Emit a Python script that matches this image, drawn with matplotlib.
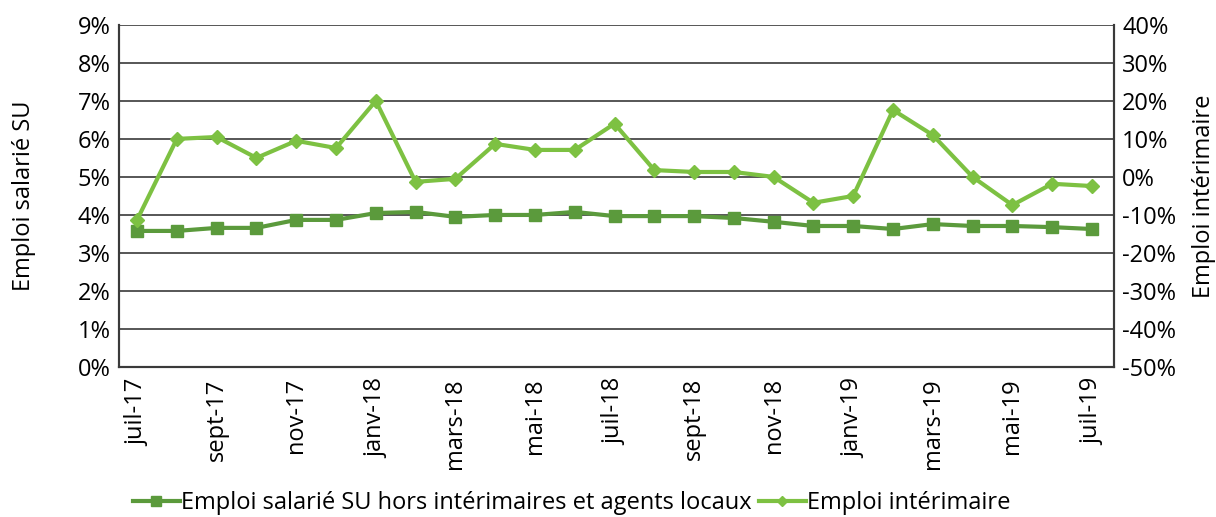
import matplotlib.pyplot as plt
from matplotlib.ticker import FuncFormatter

plt.rcParams['font.family'] = ['Open Sans', 'DejaVu Sans']

months = ["juil-17", "août-17", "sept-17", "oct-17", "nov-17", "déc-17",
          "janv-18", "févr-18", "mars-18", "avr-18", "mai-18", "juin-18",
          "juil-18", "août-18", "sept-18", "oct-18", "nov-18", "déc-18",
          "janv-19", "févr-19", "mars-19", "avr-19", "mai-19", "juin-19", "juil-19"]

# Emploi salarié SU hors intérimaires et agents locaux (%, left axis)
emploi_su = [3.58, 3.58, 3.66, 3.66, 3.87, 3.87, 4.05, 4.08, 3.95, 4.0, 4.0, 4.08,
             3.97, 3.97, 3.97, 3.92, 3.82, 3.71, 3.71, 3.63, 3.76, 3.71, 3.71, 3.68, 3.63]

# Emploi intérimaire (%, right axis)
emploi_interim = [-11.3, 10.0, 10.5, 5.0, 9.5, 7.6, 20.0, -1.3, -0.5, 8.7, 7.1, 7.1,
                  14.0, 1.8, 1.3, 1.3, 0.0, -6.8, -5.0, 17.6, 11.0, 0.0, -7.4, -1.8, -2.4]

dark_green = '#5B9A3C'
light_green = '#7DC142'
grid_col = '#3a3a3a'

fig = plt.figure(figsize=(12.16, 5.17), dpi=100)
ax = fig.add_axes([0.098, 0.29, 0.818, 0.662])
ax2 = ax.twinx()

x = list(range(len(months)))

l1, = ax.plot(x, emploi_su, color=dark_green, lw=3, marker='s', ms=9,
              label='Emploi salarié SU hors intérimaires et agents locaux', zorder=3)
l2, = ax2.plot(x, emploi_interim, color=light_green, lw=3, marker='D', ms=7,
               label='Emploi intérimaire', zorder=3)

ax.set_ylim(0, 9)
ax.set_yticks(range(0, 10))
ax.yaxis.set_major_formatter(FuncFormatter(lambda v, p: f"{v:.0f}%"))
ax2.set_ylim(-50, 40)
ax2.set_yticks(range(-50, 41, 10))
ax2.yaxis.set_major_formatter(FuncFormatter(lambda v, p: f"{v:.0f}%"))

ax.set_xlim(-0.45, len(months) - 0.45)
ax.set_xticks(x[::2])
ax.set_xticklabels(months[::2], rotation=90, fontsize=17)

ax.grid(axis='y', color=grid_col, lw=1.2)
ax.set_axisbelow(True)
for a in (ax, ax2):
    a.tick_params(axis='y', length=0, labelsize=17, pad=6)
    a.tick_params(axis='x', length=0, pad=8)
    for s in a.spines.values():
        s.set_color(grid_col)
        s.set_linewidth(1.5)
    a.spines['top'].set_visible(False)

ax.set_ylabel('Emploi salarié SU', fontsize=17, labelpad=30)
ax2.set_ylabel('Emploi intérimaire', fontsize=17, rotation=90, labelpad=11)

fig.legend(handles=[l1, l2], loc='lower center', bbox_to_anchor=(0.47, -0.038),
           ncol=2, frameon=False, fontsize=17, handlelength=2.0,
           handletextpad=0.05, columnspacing=0.3, markerscale=0.8)

fig.savefig('out.png', dpi=100)
